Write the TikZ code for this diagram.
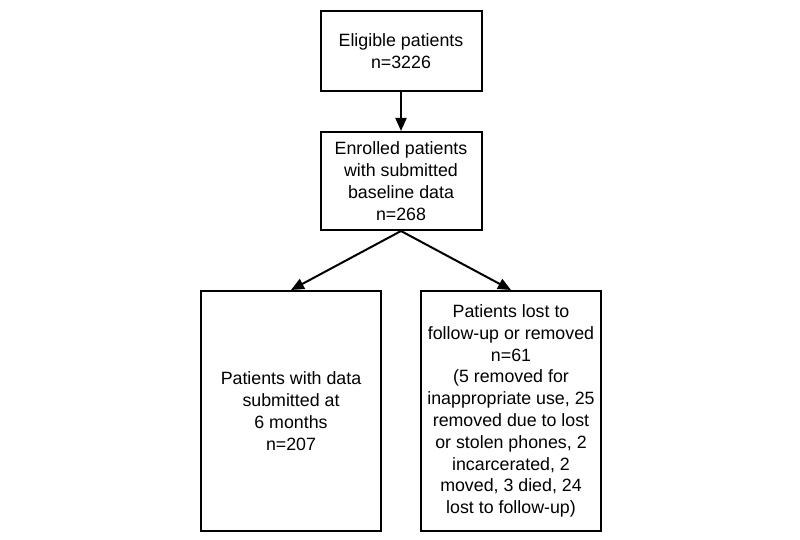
\documentclass[tikz,border=0pt]{standalone}
\usepackage{fontspec}
\setmainfont{Liberation Sans}
\usetikzlibrary{arrows.meta}
\begin{document}
\begin{tikzpicture}[x=1pt,y=-1pt,
  box/.style={draw=black,line width=2pt,inner sep=0pt,align=center,
    font=\fontsize{17.8}{21.8}\selectfont},
  arr/.style={line width=2pt,-{Triangle[length=13pt,width=11pt]}}]
\useasboundingbox (0,0) rectangle (800,540);
\node[box,minimum width=161pt,minimum height=80pt] (elig) at (401,51) {Eligible patients\\n=3226};
\node[box,minimum width=161pt,minimum height=98pt] (enr) at (401,181) {Enrolled patients\\with submitted\\baseline data\\n=268};
\node[box,minimum width=180pt,minimum height=240pt] (six) at (291,411) {Patients with data\\submitted at\\6 months\\n=207};
\node[box,minimum width=180pt,minimum height=240pt] (lost) at (511,411) {Patients lost to\\follow-up or removed\\n=61\\(5 removed for\\inappropriate use, 25\\removed due to lost\\or stolen phones, 2\\incarcerated, 2\\moved, 3 died, 24\\lost to follow-up)};
\draw[arr] (elig.south) -- (enr.north);
\draw[arr] (enr.south) -- (six.north);
\draw[arr] (enr.south) -- (lost.north);
\end{tikzpicture}
\end{document}
